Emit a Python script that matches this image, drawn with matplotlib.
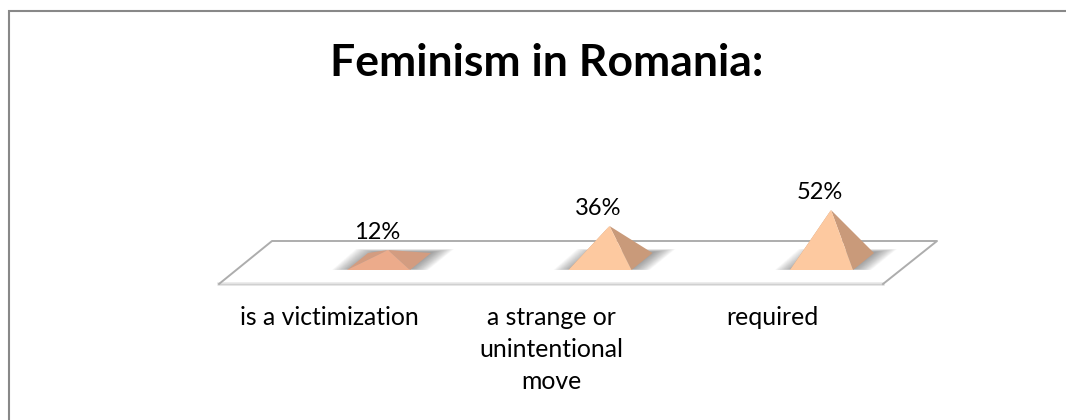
import numpy as np
import matplotlib
matplotlib.use('Agg')
import matplotlib.pyplot as plt
from matplotlib.patches import Polygon

plt.rcParams['font.family'] = ['Lato', 'DejaVu Sans']

title = 'Feminism in Romania:'
categories = ['is a victimization', 'a strange or\nunintentional\nmove', 'required']
values = [12, 36, 52]

W, H = 1066, 420
fig = plt.figure(figsize=(W / 100, H / 100), dpi=100)
ax = fig.add_axes([0, 0, 1, 1])

# one category = 221.5 px, one percent = 1 px
x0, step = 388, 221.5
y0 = 262
ax.set_xlim(-x0 / step, (W - x0) / step)
ax.set_ylim(y0 - H, y0)
ax.axis('off')


def dx(px):
    return px / step


def corner(px, py):
    return ((px - x0) / step, y0 - py)


# outer frame: left and top only, runs off the picture
ax.plot(*zip(corner(9, H + 5), corner(9, 11), corner(W + 5, 11)),
        color='#888888', lw=1.5, solid_joinstyle='miter')

# floor
bl, br, fr, fl = corner(272, 241), corner(937, 241), corner(883, 284), corner(219, 284)
ax.add_patch(Polygon([bl, br, fr, fl], closed=True, fc='white', ec='none', zorder=1))
ax.plot(*zip(fl, fr), color='#e8e8e8', lw=2.6, zorder=1)
ax.plot(*zip(fl, fr), color='#d0d0d0', lw=1, zorder=1)
ax.plot(*zip(fl, bl, br, fr), color='#adadad', lw=1.4, zorder=1, solid_joinstyle='round')

base_y = y0 - 270
back_y = y0 - 253

for i, v in enumerate(values):
    # soft shadow on the floor
    layers = 18
    for k in range(layers):
        g = 1 - k / layers
        ax.add_patch(Polygon([(i + dx(-36 - 20 * g), base_y + 1 * (1 - g)),
                              (i + dx(-12 - 20 * g), back_y + 1 + 3 * g),
                              (i + dx(44 + 22 * g), back_y + 1 + 3 * g),
                              (i + dx(22 + 18 * g), base_y + 1 * (1 - g))],
                             closed=True, fc='#4a4a4a', ec='none', alpha=0.035, zorder=2))
    left = (i + dx(-41), base_y)
    front = (i + dx(22), base_y)
    right = (i + dx(43), back_y)
    rear = (i + dx(-20), back_y)
    peak = (i, v)
    shade_front, shade_side = ('#ecab8b', '#d39c80') if v < 20 else ('#fdc9a0', '#c99a7a')
    ax.add_patch(Polygon([left, rear, peak], closed=True, fc=shade_side, ec='none', zorder=3))
    ax.add_patch(Polygon([front, right, peak], closed=True, fc=shade_side, ec='none', zorder=3))
    ax.add_patch(Polygon([left, front, peak], closed=True, fc=shade_front, ec='none', zorder=4))
    ax.text(i + dx(-11), v + 11, f'{v}%', ha='center', va='baseline', fontsize=17, color='black', zorder=5)

label_x = [329.5, 551, 772]
for i in range(3):
    for j, line in enumerate(categories[i].split('\n')):
        ax.text(corner(label_x[i], 0)[0], y0 - 325 - 32 * j, line, ha='center', va='baseline',
                fontsize=17.8, color='black', zorder=5)

ax.text(*corner(546.5, 76), title, ha='center', va='baseline', fontsize=32, fontweight='bold', color='black')

fig.savefig('out.png', dpi=100)
